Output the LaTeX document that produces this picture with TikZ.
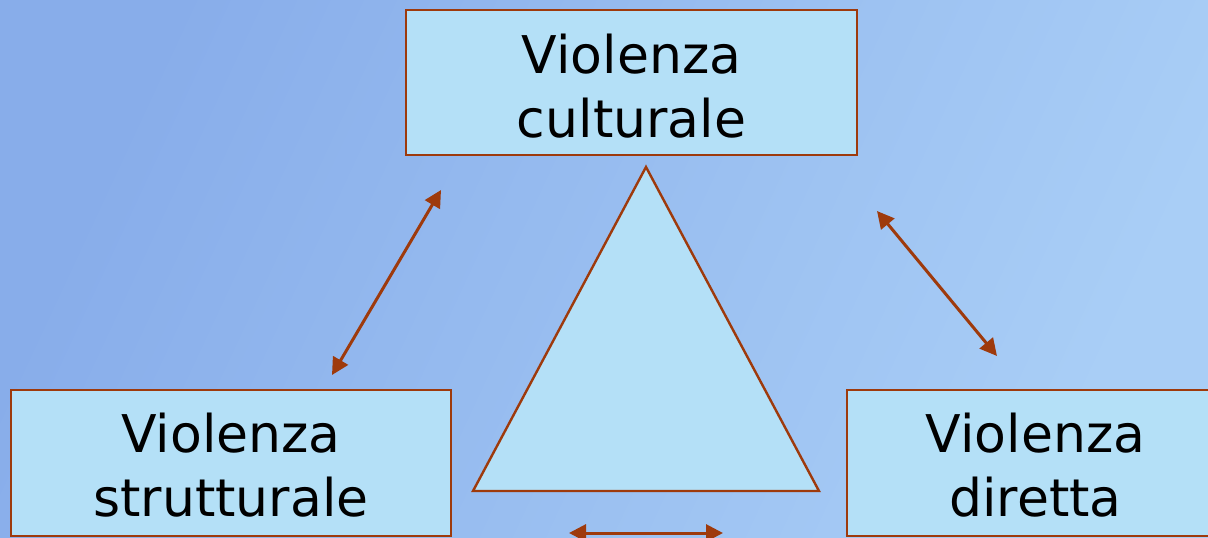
\documentclass[tikz,border=0pt]{standalone}
\usepackage{fontspec}
\setmainfont{DejaVu Sans}
\usetikzlibrary{arrows.meta}
\definecolor{bgTL}{HTML}{88ADEA}
\definecolor{bgBR}{HTML}{A9CEF6}
\definecolor{boxfill}{HTML}{B4E0F7}
\definecolor{brownline}{HTML}{9E3A0C}
\tikzset{
  vbox/.style={draw=brownline, line width=2.4pt, fill=boxfill, inner sep=0pt,
    align=center, font=\fontsize{52}{64}\selectfont, anchor=center},
  dblarrow/.style={draw=brownline, line width=3pt,
    {Triangle[length=17pt,width=17pt]}-{Triangle[length=17pt,width=17pt]}}
}
\begin{document}
\begin{tikzpicture}[x=1pt,y=-1pt]
\useasboundingbox (0,0) rectangle (1208,538);
\shade[top color=bgTL, bottom color=bgBR, shading angle=65] (0,0) rectangle (1208,538);
\node[vbox, minimum width=451pt, minimum height=145pt] (cult) at (631.5,82.5) {\rule{0pt}{46pt}Violenza\\culturale};
\node[vbox, minimum width=440pt, minimum height=146pt] (strut) at (231,463) {\rule{0pt}{44pt}Violenza\\strutturale};
\node[vbox, minimum width=377pt, minimum height=146pt] (dir) at (1035.5,463) {\rule{0pt}{44pt}Violenza\\diretta};
\draw[brownline, line width=2.4pt, fill=boxfill, line join=miter] (646,167) -- (819,491) -- (473,491) -- cycle;
\coordinate (a1s) at (332,375);
\coordinate (a1e) at (441,190);
\coordinate (a2s) at (877,211);
\coordinate (a2e) at (997,356);
\coordinate (a3s) at (569,533);
\coordinate (a3e) at (723,533);
\draw[dblarrow] (a1s) -- (a1e);
\draw[dblarrow] (a2s) -- (a2e);
\draw[dblarrow] (a3s) -- (a3e);
\end{tikzpicture}
\end{document}
